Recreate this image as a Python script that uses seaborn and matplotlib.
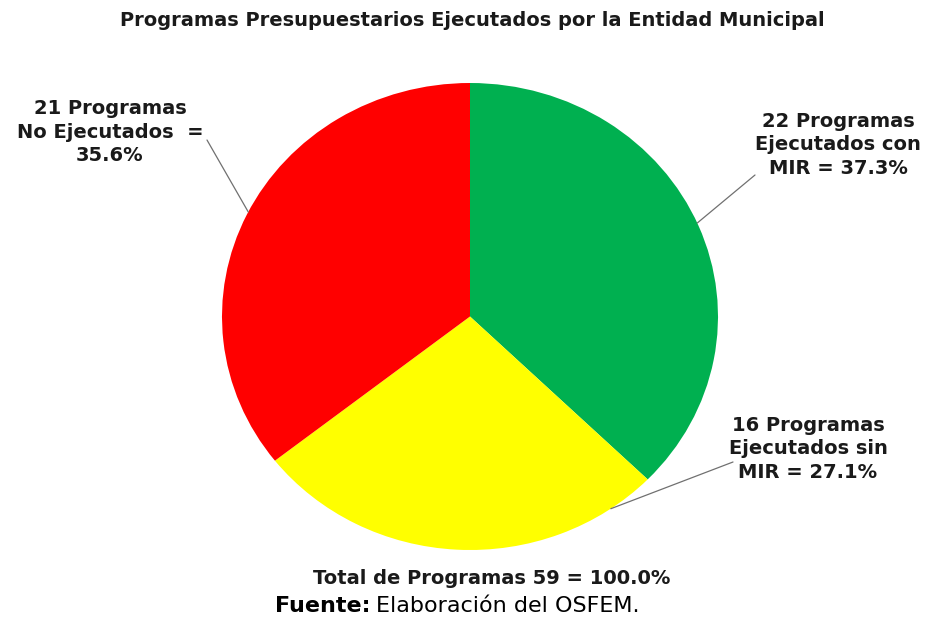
import numpy as np
import matplotlib
matplotlib.use("Agg")
import matplotlib.pyplot as plt
import matplotlib.transforms as mtransforms
import seaborn as sns

# Data
categorias = ["Ejecutados con MIR", "Ejecutados sin MIR", "No Ejecutados"]
programas = [22, 16, 21]
porcentajes = [37.3, 27.1, 35.6]
colores = ["#00B050", "#FFFF00", "#FF0000"]
total = 59

sns.set_theme(style="white")
plt.rcParams["font.family"] = ["DejaVu Sans"]

W, H = 927, 622
fig = plt.figure(figsize=(W / 100, H / 100), dpi=100)
ax = fig.add_axes([0, 0, 1, 1])

# pie is a bit squashed vertically in the original
cx, cy, rx, ry = 470, H - 316.5, 248, 233.5
wedges, _ = ax.pie(programas, colors=colores, startangle=90, counterclock=False,
                   center=(cx, cy), radius=rx, frame=True,
                   wedgeprops=dict(linewidth=0))
squash = mtransforms.Affine2D().translate(-cx, -cy).scale(1, ry / rx).translate(cx, cy)
for w in wedges:
    w.set_transform(squash + ax.transData)

ax.set_aspect("auto")
ax.set_xlim(0, W)
ax.set_ylim(0, H)
ax.axis("off")

etiquetas = [
    f"{programas[0]} Programas\nEjecutados con\nMIR = {porcentajes[0]}%",
    f"{programas[1]} Programas\nEjecutados sin\nMIR = {porcentajes[1]}%",
    f"{programas[2]} Programas\nNo Ejecutados  =\n{porcentajes[2]}%",
]
# label placement (pixels from top-left), leader line start and angle on pie
texto_pos = [(838, 145), (808, 449), (110, 132)]
linea_ini = [(755, 175), (733, 462), (207, 140)]
angulos = [23.6, -55.4, 153.4]

for lab, (tx, ty), (lx, ly), ang in zip(etiquetas, texto_pos, linea_ini, angulos):
    ax.text(tx, H - ty, lab, ha="center", va="center", fontsize=14,
            fontweight="bold", color="#1a1a1a", linespacing=1.27)
    px = cx + rx * np.cos(np.radians(ang))
    py = cy + ry * np.sin(np.radians(ang))
    ax.plot([lx, px], [H - ly, py], color="#707070", lw=0.9)

ax.text(472, H - 21, "Programas Presupuestarios Ejecutados por la Entidad Municipal",
        ha="center", va="center", fontsize=14, fontweight="bold", color="#1a1a1a")
ax.text(492, H - 578, f"Total de Programas {total} = 100.0%",
        ha="center", va="center", fontsize=14, fontweight="bold", color="#1a1a1a")

t1 = ax.text(275, H - 606, "Fuente:", ha="left", va="center", fontsize=16,
             fontweight="bold", color="black")
fig.canvas.draw()
bb = t1.get_window_extent()
ax.text(bb.x1 + 6, H - 606, "Elaboración del OSFEM.", ha="left", va="center",
        fontsize=16, color="black")

fig.savefig("out.png", dpi=100)
